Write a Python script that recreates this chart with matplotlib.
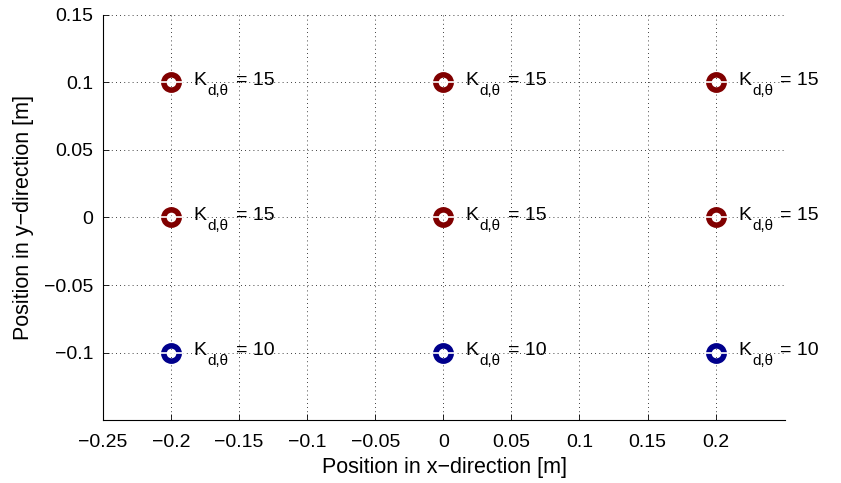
import matplotlib
matplotlib.use('Agg')
import matplotlib.pyplot as plt
from matplotlib.transforms import offset_copy

plt.rcParams['font.family'] = ['Liberation Sans', 'DejaVu Sans']

# marker positions [m] and gains
pos_x = [-0.2, 0.0, 0.2, -0.2, 0.0, 0.2, -0.2, 0.0, 0.2]
pos_y = [0.1, 0.1, 0.1, 0.0, 0.0, 0.0, -0.1, -0.1, -0.1]
k_gain = [15, 15, 15, 15, 15, 15, 10, 10, 10]

xticks = [-0.25, -0.2, -0.15, -0.1, -0.05, 0, 0.05, 0.1, 0.15, 0.2]
xticklabels = ['−0.25', '−0.2', '−0.15', '−0.1', '−0.05', '0', '0.05', '0.1', '0.15', '0.2']
yticks = [-0.1, -0.05, 0, 0.05, 0.1, 0.15]
yticklabels = ['−0.1', '−0.05', '0', '0.05', '0.1', '0.15']

color_k = {15: '#800000', 10: '#00008c'}

fig = plt.figure(figsize=(8.41, 4.83), dpi=100)
ax = fig.add_axes([0.1225, 0.1304, 0.8109, 0.8386])

for x, y, k in zip(pos_x, pos_y, k_gain):
    ax.plot(x, y, 'o', ms=11, mfc='none', mec=color_k[k], mew=4.0, zorder=3)
    ax.plot([x - 0.0075, x + 0.009], [y, y], color='white', lw=1.2, zorder=4)
    # K with a large, low subscript (like the MATLAB tex interpreter)
    tx, ty = x + 0.0165, y - 0.0022
    ax.text(tx, ty, 'K', fontsize=14, ha='left', va='baseline', zorder=5)
    ax.text(tx, ty, 'd,θ', fontsize=11, ha='left', va='baseline', zorder=5,
            transform=offset_copy(ax.transData, fig=fig, x=14, y=-10, units='dots'))
    ax.text(tx, ty, '= %d' % k, fontsize=14, ha='left', va='baseline', zorder=5,
            transform=offset_copy(ax.transData, fig=fig, x=42, y=0, units='dots'))

ax.set_xlim(-0.25, 0.251)
ax.set_ylim(-0.15, 0.15)
ax.set_xticks(xticks)
ax.set_xticklabels(xticklabels)
ax.set_yticks(yticks)
ax.set_yticklabels(yticklabels)
ax.tick_params(direction='in', length=4, width=0.6, labelsize=14)
ax.tick_params(axis='x', pad=10)
ax.tick_params(axis='y', pad=7)
ax.grid(True, color='black', linestyle=(0, (1, 4)), linewidth=0.6)
ax.spines['top'].set_visible(False)
ax.spines['right'].set_visible(False)
for s in ['left', 'bottom']:
    ax.spines[s].set_linewidth(0.8)

ax.set_xlabel('Position in x−direction [m]', fontsize=15.5, labelpad=4.5)
ax.set_ylabel('Position in y−direction [m]', fontsize=15.5, labelpad=7)

fig.savefig('out.png', dpi=100)
